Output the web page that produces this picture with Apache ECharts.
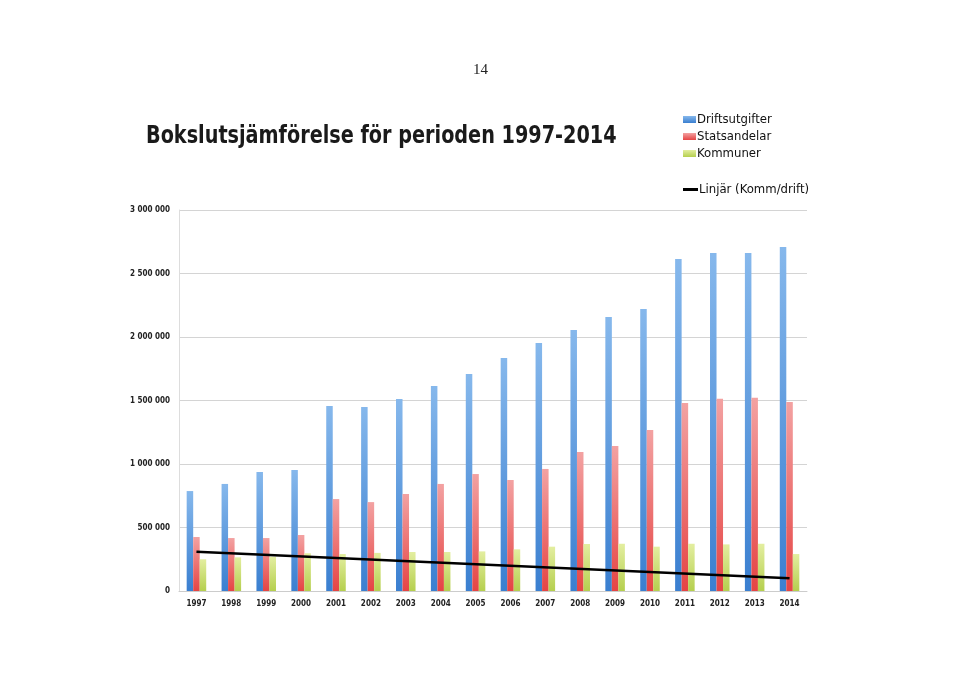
<!DOCTYPE html>
<html>
<head>
<meta charset="utf-8">
<script src="https://cdn.jsdelivr.net/npm/echarts@6/dist/echarts.min.js"></script>
<style>
html,body{margin:0;padding:0;background:#fff;}
#c{width:960px;height:678px;}
</style>
</head>
<body>
<div id="c"></div>
<script>
const years = ['1997','1998','1999','2000','2001','2002','2003','2004','2005','2006','2007','2008','2009','2010','2011','2012','2013','2014'];
const driftsutgifter = [787000,843000,937000,953000,1457000,1449000,1512000,1614000,1709000,1835000,1953000,2055000,2157000,2220000,2614000,2661000,2661000,2709000];
const statsandelar = [425000,417000,417000,441000,724000,700000,764000,843000,921000,874000,961000,1094000,1142000,1268000,1480000,1514000,1522000,1488000];
const kommuner = [250000,265000,270000,297000,291000,300000,307000,307000,312000,328000,349000,370000,372000,349000,372000,367000,372000,291000];
// Trend line at its two ends (straight line)
const trendKommDrift = [310000,null,null,null,null,null,null,null,null,null,null,null,null,null,null,null,null,100000];
const yTicks = ['0','500 000','1 000 000','1 500 000','2 000 000','2 500 000','3 000 000'];

function grad(top, bottom){
  return new echarts.graphic.LinearGradient(0,0,0,1,[{offset:0,color:top},{offset:1,color:bottom}]);
}
const chart = echarts.init(document.getElementById('c'), null, {renderer:'canvas'});
const fam = '"Liberation Sans Narrow","DejaVu Sans Condensed",Arial,sans-serif';
const lblFont = {fontFamily:fam, fontWeight:'bold', fontSize:8, color:'#222'};
chart.setOption({
  animation:false,
  backgroundColor:'#fff',
  title:[
    {text:'14', left:468, top:58, textStyle:{fontFamily:'"Liberation Serif",serif', fontWeight:'normal', fontSize:15, color:'#222'}}
  ],
  graphic:[
    {type:'text', left:146, top:124, scaleX:0.855, originX:0,
     style:{text:'Bokslutsjämförelse för perioden 1997-2014', font:'bold 25px ' + fam, fill:'#1a1a1a'}}
  ],
  legend:[
    {data:['Driftsutgifter','Statsandelar','Kommuner'], orient:'vertical', left:678, top:108,
     itemWidth:13, itemHeight:7, itemGap:4, icon:'rect',
     textStyle:{fontFamily:fam, fontSize:13, color:'#111', padding:[0,0,0,-4]}},
    {data:['Linjär (Komm/drift)'], orient:'vertical', left:678, top:178,
     itemWidth:15, itemHeight:3, icon:'rect',
     textStyle:{fontFamily:fam, fontSize:13, color:'#111', padding:[0,0,0,-4]}}
  ],
  grid:{left:179, right:153, top:210, bottom:87, containLabel:false},
  xAxis:{
    type:'category', data:years,
    axisLine:{show:true, lineStyle:{color:'#ccc'}},
    axisTick:{show:false},
    axisLabel:Object.assign({margin:9}, lblFont)
  },
  yAxis:{
    type:'value', min:0, max:3000000, interval:500000,
    axisLine:{show:true, lineStyle:{color:'#ddd'}},
    axisTick:{show:false},
    splitLine:{lineStyle:{color:'#d4d4d4', width:1}},
    axisLabel:Object.assign({margin:9, formatter:function(v){return yTicks[Math.round(v/500000)];}}, lblFont)
  },
  series:[
    {name:'Driftsutgifter', type:'bar', data:driftsutgifter, barGap:'0%', barCategoryGap:'44%',
     itemStyle:{color:grad('#86b8ec','#3a7fd0')}},
    {name:'Statsandelar', type:'bar', data:statsandelar,
     itemStyle:{color:grad('#f3a2a2','#e54444')}},
    {name:'Kommuner', type:'bar', data:kommuner,
     itemStyle:{color:grad('#e3eea0','#b5cf4e')}},
    {name:'Linjär (Komm/drift)', type:'line', data:trendKommDrift, connectNulls:true,
     symbol:'none', lineStyle:{color:'#000', width:2.5}, itemStyle:{color:'#000'}, z:5}
  ]
});
</script>
</body>
</html>
